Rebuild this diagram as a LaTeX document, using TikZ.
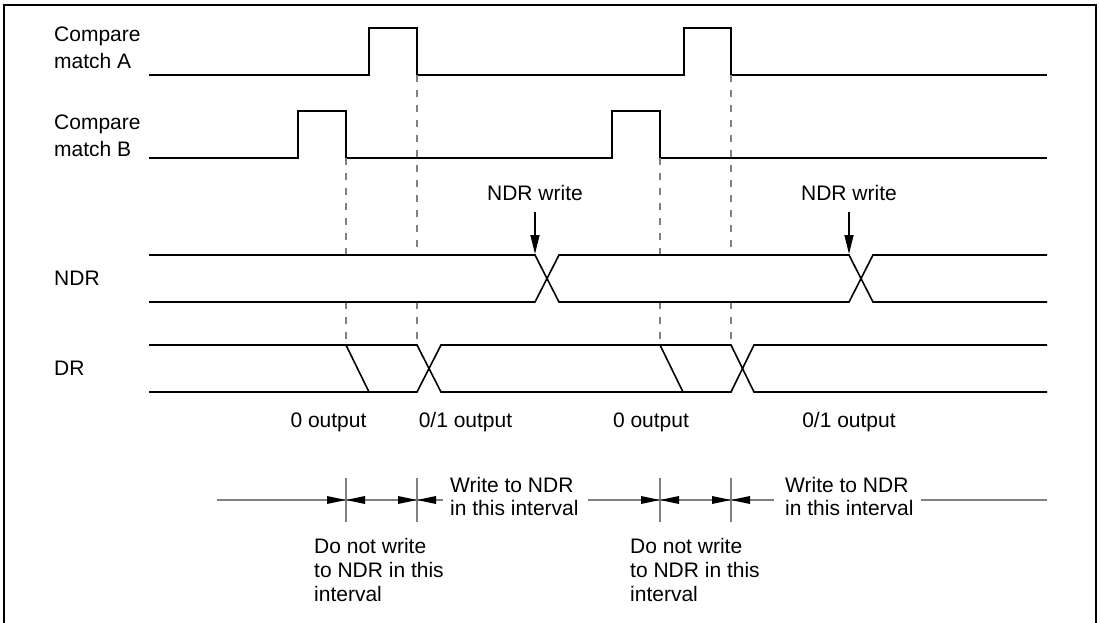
\documentclass[tikz,border=0pt]{standalone}
\usepackage{fontspec}
\setmainfont{Liberation Sans}
\usetikzlibrary{arrows.meta}
\begin{document}
\begin{tikzpicture}[x=1pt,y=-1pt,
  sig/.style={line width=1.6pt, black, line join=miter},
  guide/.style={gray, line width=1.3pt, dash pattern=on 7pt off 8pt},
  dim/.style={gray, line width=1.5pt},
  lbl/.style={inner sep=0pt, font=\fontsize{21}{24.2}\selectfont, align=left, anchor=north west},
  txt/.style={inner sep=0pt, font=\fontsize{21}{24}\selectfont},
  wr/.style={-{Triangle[length=19pt,width=9pt]}, line width=1.4pt}]
\useasboundingbox (0,0) rectangle (1101,622);
% frame
\draw[line width=2.5pt] (4,626) -- (4,5) -- (1096,5) -- (1096,626);
% signal labels
\node[lbl, font=\fontsize{21}{26.5}\selectfont] (ca) at (54,27) {Compare\\match A};
\node[lbl, font=\fontsize{21}{26.5}\selectfont] (cb) at (54,115) {Compare\\match B};
\node[txt, anchor=west] (ndr) at (54,278.5) {NDR};
\node[txt, anchor=west] (dr) at (54,368.5) {DR};
% compare match A
\draw[sig] (149,75) -- (369,75) -- (369,28) -- (417,28) -- (417,75) -- (684,75) -- (684,28) -- (731,28) -- (731,75) -- (1047,75);
% compare match B
\draw[sig] (149,158) -- (298,158) -- (298,111) -- (346,111) -- (346,158) -- (612,158) -- (612,111) -- (660,111) -- (660,158) -- (1047,158);
% guides
\foreach \x/\y in {346/158,417/75,660/158,731/75}{
  \draw[guide] (\x,\y) -- (\x,255);
  \draw[guide] (\x,302) -- (\x,345);
}
% NDR
\draw[sig] (149,255) -- (535,255) -- (559,302) -- (849,302) -- (873,255) -- (1047,255);
\draw[sig] (149,302) -- (535,302) -- (559,255) -- (849,255) -- (873,302) -- (1047,302);
% DR
\draw[sig] (149,345) -- (417,345) -- (441,392) -- (731,392) -- (754,345) -- (1047,345);
\draw[sig] (149,392) -- (417,392) -- (441,345) -- (731,345) -- (754,392) -- (1047,392);
\draw[sig] (346,345) -- (369,392);
\draw[sig] (660,345) -- (683,392);
% NDR write
\node[txt, anchor=base] (nw1) at (535,200) {NDR write};
\node[txt, anchor=base] (nw2) at (849,200) {NDR write};
\coordinate (a1s) at (535,212); \coordinate (a1e) at (535,254);
\coordinate (a2s) at (849,212); \coordinate (a2e) at (849,254);
\draw[wr] (a1s) -- (a1e);
\draw[wr] (a2s) -- (a2e);
% outputs
\node[txt, anchor=base] (o1) at (328.5,427) {0 output};
\node[txt, anchor=base] (o2) at (465.5,427) {0/1 output};
\node[txt, anchor=base] (o3) at (651,427) {0 output};
\node[txt, anchor=base] (o4) at (849,427) {0/1 output};
% interval dimension lines
\draw[dim] (217,500) -- (443,500);
\draw[dim] (588,500) -- (774,500);
\draw[dim] (921,500) -- (1047,500);
\foreach \x in {346,417,660,731}{
  \draw[dim] (\x,478) -- (\x,522);
  \fill (\x-19,496) -- (\x,500) -- (\x-19,504) -- cycle;
  \fill (\x+19,496) -- (\x,500) -- (\x+19,504) -- cycle;
}
\node[lbl, font=\fontsize{21}{23.5}\selectfont] (w1) at (450,477) {Write to NDR\\in this interval};
\node[lbl, font=\fontsize{21}{23.5}\selectfont] (w2) at (785,477) {Write to NDR\\in this interval};
\node[lbl] (d1) at (314,538) {Do not write\\to NDR in this\\interval};
\node[lbl] (d2) at (630,538) {Do not write\\to NDR in this\\interval};
\end{tikzpicture}
\end{document}
